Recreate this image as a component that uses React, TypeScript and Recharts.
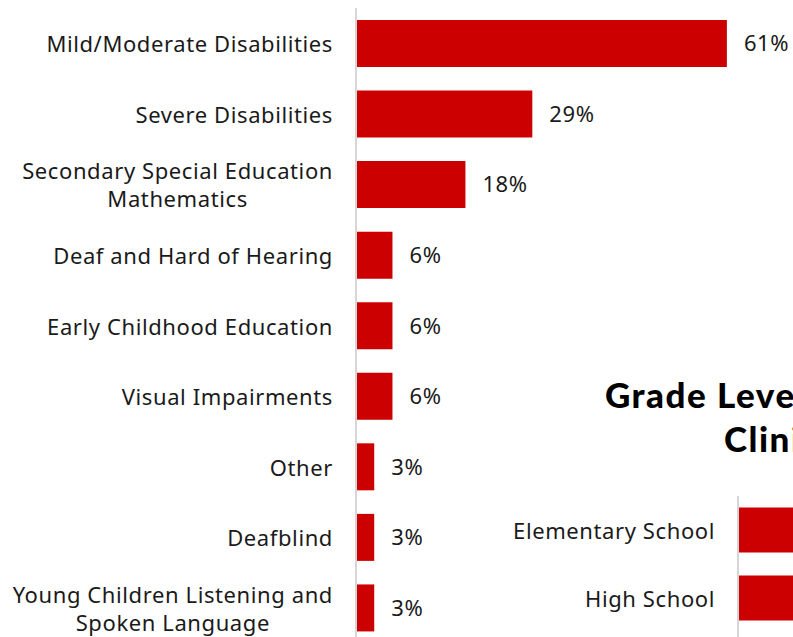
import { Bar, BarChart, LabelList, XAxis, YAxis } from "recharts"

const programas = [
  "Mild/Moderate Disabilities",
  "Severe Disabilities",
  "Secondary Special Education Mathematics",
  "Deaf and Hard of Hearing",
  "Early Childhood Education",
  "Visual Impairments",
  "Other",
  "Deafblind",
  "Young Children Listening and Spoken Language",
]
const pctProgramas = [61, 29, 18, 6, 6, 6, 3, 3, 3]

const niveis = ["Elementary School", "High School"]
const pctNiveis = [52, 45]

const dadosProgramas = programas.map((nome, i) => ({ nome, pct: pctProgramas[i] }))
const dadosNiveis = niveis.map((nome, i) => ({ nome, pct: pctNiveis[i] }))

const FONTE = "'Noto Sans', Lato, sans-serif"
const VERMELHO = "#cc0000"
const TEXTO = "#1a1a1a"
const EIXO = "#d6d6d6"
const TAM = 22
const ESP = 0.6

let ctx: CanvasRenderingContext2D | null = null
function largura(s: string) {
  if (!ctx) ctx = document.createElement("canvas").getContext("2d")
  if (!ctx) return s.length * (TAM * 0.55 + ESP)
  ctx.font = `${TAM}px ${FONTE}`
  return ctx.measureText(s).width + s.length * ESP
}

function quebra(s: string, max: number) {
  const linhas: string[] = []
  let atual = ""
  for (const p of s.split(" ")) {
    const tenta = atual ? atual + " " + p : p
    if (atual && largura(tenta) > max) {
      linhas.push(atual)
      atual = p
    } else atual = tenta
  }
  if (atual) linhas.push(atual)
  return linhas
}

function Rotulo(props: any) {
  const { x, y, payload } = props
  const linhas = quebra(String(payload.value), 330)
  const alt = 28
  const w = Math.max(...linhas.map(largura))
  const cx = x - 15 - w / 2
  return (
    <text x={cx} y={y} textAnchor="middle" fontSize={TAM} fontFamily={FONTE} fill={TEXTO} letterSpacing={ESP}>
      {linhas.map((l, i) => (
        <tspan key={i} x={cx} y={y + (i - (linhas.length - 1) / 2) * alt} dominantBaseline="central">
          {l}
        </tspan>
      ))}
    </text>
  )
}

export default function App() {
  return (
    <div style={{ position: "absolute", top: 0, left: 0, width: 793, height: 637, overflow: "hidden", background: "#fff" }}>
      <div style={{ position: "absolute", top: 0, left: 0 }}>
        <BarChart
          width={964}
          height={643}
          data={dadosProgramas}
          layout="vertical"
          margin={{ top: 8, right: 0, left: 0, bottom: 0 }}
          barCategoryGap="17%"
        >
          <XAxis type="number" domain={[0, 100]} hide />
          <YAxis
            type="category"
            dataKey="nome"
            width={356}
            tick={<Rotulo />}
            tickLine={false}
            axisLine={{ stroke: EIXO, strokeWidth: 2 }}
            interval={0}
          />
          <Bar dataKey="pct" fill={VERMELHO} isAnimationActive={false}>
            <LabelList
              dataKey="pct"
              position="right"
              offset={17}
              formatter={(v: any) => v + "%"}
              fill={TEXTO}
              fontSize={TAM}
              fontFamily={FONTE}
              letterSpacing={ESP}
            />
          </Bar>
        </BarChart>
      </div>

      <div style={{ position: "absolute", top: 372, left: 380, width: 700, fontFamily: "Lato, sans-serif", fontWeight: 900, fontSize: 35, lineHeight: "44px", letterSpacing: 1.5, color: "#000" }}>
        <div style={{ position: "absolute", top: 0, left: 225, whiteSpace: "nowrap" }}>Grade Level of Candidates'</div>
        <div style={{ position: "absolute", top: 44, left: 344, whiteSpace: "nowrap" }}>Clinical Placement</div>
      </div>

      <div style={{ position: "absolute", top: 0, left: 380 }}>
        <BarChart
          width={966}
          height={640}
          data={dadosNiveis}
          layout="vertical"
          margin={{ top: 496, right: 0, left: 0, bottom: 0 }}
          barCategoryGap="17%"
        >
          <XAxis type="number" domain={[0, 100]} hide />
          <YAxis
            type="category"
            dataKey="nome"
            width={358}
            tick={<Rotulo />}
            tickLine={false}
            axisLine={{ stroke: EIXO, strokeWidth: 2 }}
            interval={0}
            padding={{ top: 0, bottom: 8 }}
          />
          <Bar dataKey="pct" fill={VERMELHO} isAnimationActive={false} />
        </BarChart>
      </div>
    </div>
  )
}
